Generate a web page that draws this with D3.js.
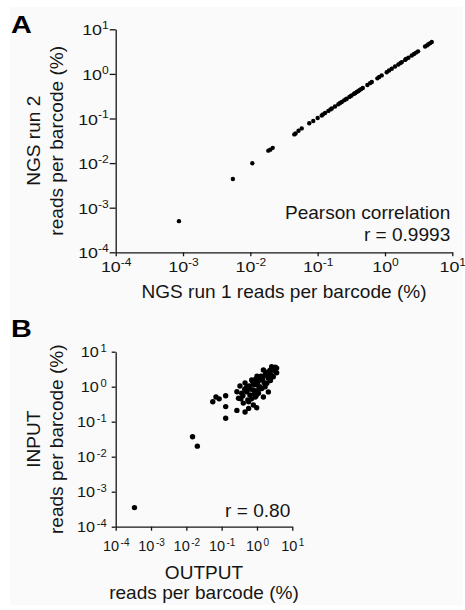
<!DOCTYPE html>
<html>
<head>
<meta charset="utf-8">
<script src="https://cdn.jsdelivr.net/npm/d3@7"></script>
<style>
  body { margin: 0; background: #fff; }
  svg { display: block; font-family: "Liberation Sans", Arial, sans-serif; }
</style>
</head>
<body>
<div id="viz"></div>
<script>
// panel A: NGS run 1 vs NGS run 2 (reads per barcode, %)
var run1 = [0.00087, 0.0055, 0.0107, 0.0185, 0.0198, 0.0215, 0.045, 0.047, 0.052, 0.058,
    0.075, 0.086, 0.100, 0.115, 0.12, 0.129, 0.144, 0.155, 0.162, 0.181, 0.203, 0.215, 0.228,
    0.247, 0.26, 0.270, 0.296, 0.31, 0.320, 0.348, 0.36, 0.381, 0.40, 0.417, 0.44, 0.468,
    0.548, 0.6, 0.637, 0.771, 0.82, 0.895, 1.06, 1.15, 1.26, 1.41, 1.58, 1.7, 1.78, 1.99,
    2.05, 2.23, 2.50, 2.7, 2.90, 3.1, 3.94, 4.2, 4.42, 4.7, 4.95];
var run2 = [0.0005, 0.0044, 0.0099, 0.019, 0.020, 0.022, 0.044, 0.046, 0.053, 0.060,
    0.078, 0.088, 0.103, 0.117, 0.124, 0.133, 0.148, 0.16, 0.167, 0.186, 0.209, 0.222, 0.234,
    0.255, 0.268, 0.278, 0.305, 0.318, 0.330, 0.358, 0.37, 0.392, 0.41, 0.430, 0.455, 0.482,
    0.565, 0.62, 0.657, 0.795, 0.85, 0.925, 1.09, 1.19, 1.30, 1.46, 1.63, 1.76, 1.84, 2.06,
    2.15, 2.31, 2.59, 2.8, 3.00, 3.2, 4.10, 4.35, 4.62, 4.9, 5.20];

// panel B: OUTPUT vs INPUT (reads per barcode, %)
var outputReads = [0.00034, 0.015, 0.0205, 0.056, 0.069, 0.085, 0.13, 0.13, 0.13, 0.27, 0.46, 0.98, 2.1,
    2.6, 3.6, 3.6, 1.52, 1.70, 0.33, 0.46, 0.27, 0.30, 0.41, 0.58, 0.63, 0.79, 0.98, 0.71, 1.23,
    1.90, 2.9, 1.37, 0.89, 0.51, 0.37, 0.58, 0.79, 1.1, 2.1, 1.52,
    0.40, 0.50, 0.65, 0.75, 0.85, 1.0, 1.2, 1.3, 0.9, 1.6, 1.8, 2.3, 2.4, 3.1, 3.3, 0.55, 0.70,
    0.60, 1.05, 1.45, 0.95, 1.15, 0.45, 0.35, 0.80, 2.0, 1.7, 2.5, 1.0];
var inputReads = [0.00035, 0.037, 0.020, 0.37, 0.51, 0.45, 0.55, 0.27, 0.126, 0.21, 0.19, 0.25, 0.71,
    3.7, 3.4, 2.5, 3.0, 2.15, 1.05, 1.29, 0.72, 0.47, 0.34, 0.37, 0.58, 0.81, 1.12, 1.55, 1.55,
    1.25, 1.93, 0.89, 0.51, 0.72, 0.65, 0.24, 0.30, 0.65, 1.74, 0.51,
    0.55, 0.95, 0.85, 1.4, 0.62, 0.75, 1.0, 2.0, 1.6, 1.3, 2.6, 2.9, 1.5, 2.9, 3.6, 0.42, 0.45,
    1.05, 1.35, 1.75, 0.55, 0.85, 0.85, 0.45, 1.15, 2.3, 1.0, 2.2, 2.0];

var exponents = [-4, -3, -2, -1, 0, 1];
var decades = exponents.map(function(e){ return Math.pow(10, e); });

var width = 465, height = 610;
var ink = '#151515';
var titleSize = 17.5, titleStretch = 1.09;   // the source type is a little wider than Arial

var svg = d3.select('#viz').append('svg')
    .attr('width', width)
    .attr('height', height);

svg.append('rect')
    .attr('x', 10).attr('y', 7)
    .attr('width', 453).attr('height', 598)
    .attr('fill', '#fafafa');

// text drawn at (x, y), optionally rotated, stretched horizontally
function stext(x, y, str, size, anchor, sx, rot){
    return svg.append('text')
        .attr('transform', 'translate(' + [x, y] + ')' + (rot ? ' rotate(-90)' : '') + ' scale(' + sx + ',1)')
        .attr('text-anchor', anchor)
        .style('font-size', size + 'px')
        .attr('fill', ink)
        .text(str);
}

function supLabels(axisG, size, supSize, gap, sx){
    axisG.selectAll('.tick text').each(function(d){
        var t = d3.select(this);
        var x0 = +t.attr('x') || 0;
        t.text(null)
            .style('font-size', size + 'px')
            .attr('fill', ink)
            .attr('x', x0 / sx)
            .attr('transform', 'scale(' + sx + ',1)');
        t.append('tspan').style('font-size', size + 'px').text('10');
        t.append('tspan')
            .attr('dx', gap)
            .attr('dy', -size * 0.4)
            .style('font-size', supSize + 'px')
            .text(Math.round(Math.log10(d)));
    });
}

function panel(o){
    var x = d3.scaleLog().domain([1e-4, 10]).range([o.left, o.right]);
    var y = d3.scaleLog().domain([1e-4, 10]).range([o.bottom, o.top]);

    var gx = svg.append('g')
        .attr('transform', 'translate(0,' + o.bottom + ')')
        .call(d3.axisBottom(x).tickValues(decades).tickSize(4).tickSizeOuter(0));
    var gy = svg.append('g')
        .attr('transform', 'translate(' + o.left + ',0)')
        .call(d3.axisLeft(y).tickValues(decades).tickSize(o.yTick).tickSizeOuter(0).tickPadding(o.yPad));

    [gx, gy].forEach(function(g){
        g.attr('font-family', null).attr('font-size', null);
        g.select('.domain').attr('stroke', ink).attr('stroke-width', 1.3);
        g.selectAll('.tick line').attr('stroke', ink).attr('stroke-width', 1.3);
    });
    supLabels(gx, o.xTickSize, o.xSupSize, o.gap, o.xStretch);
    supLabels(gy, o.yTickSize, o.ySupSize, o.gap, o.yStretch);
    gx.selectAll('.tick text').attr('dy', null).attr('y', o.xLabelY - o.bottom);
    gy.selectAll('.tick text').attr('dy', '0.36em');

    svg.append('g').selectAll('circle')
        .data(o.xs)
        .enter().append('circle')
        .attr('cx', function(d){ return x(d); })
        .attr('cy', function(d, i){ return y(o.ys[i]); })
        .attr('r', o.r)
        .attr('fill', '#000');

    // panel letter
    stext(11, o.letterY, o.letter, 24, 'start', 1.2)
        .attr('font-weight', 'bold')
        .attr('fill', '#000');

    // y title (two lines, rotated)
    var cy = (o.top + o.bottom) / 2;
    o.yTitle.forEach(function(line, i){
        stext(40 + i * 22.5, cy, line, titleSize, 'middle', titleStretch, true);
    });

    // x title
    var cx = (o.left + o.right) / 2;
    o.xTitle.forEach(function(line, i){
        stext(cx, o.xTitleY + i * 20.5, line, titleSize, 'middle', titleStretch, false);
    });

    // correlation note
    o.note.forEach(function(line, i){
        stext(o.right - 2, o.noteY + i * 21.5, line, titleSize, 'end', titleStretch, false);
    });
}

panel({
    letter: 'A', letterY: 33,
    left: 115.7, right: 452.3, top: 29.3, bottom: 252.3,
    xs: run1, ys: run2, r: 2.2,
    xTickSize: 15.5, xSupSize: 10.5, yTickSize: 15.5, ySupSize: 10.5, gap: 0,
    xStretch: 1.15, yStretch: 1.15,
    yTick: 6, yPad: 1,
    xLabelY: 272,
    yTitle: ['NGS run 2', 'reads per barcode (%)'],
    xTitle: ['NGS run 1 reads per barcode (%)'], xTitleY: 298,
    note: ['Pearson correlation', 'r = 0.9993'], noteY: 219
});

panel({
    letter: 'B', letterY: 337,
    left: 115.7, right: 292.3, top: 351.7, bottom: 526.7,
    xs: outputReads, ys: inputReads, r: 2.7,
    xTickSize: 14.5, xSupSize: 10, yTickSize: 14.5, ySupSize: 10, gap: 1.5,
    xStretch: 1.0, yStretch: 1.12,
    yTick: 4, yPad: 5,
    xLabelY: 551.5,
    yTitle: ['INPUT', 'reads per barcode (%)'],
    xTitle: ['OUTPUT', 'reads per barcode (%)'], xTitleY: 578.5,
    note: ['r = 0.80'], noteY: 517
});
</script>
</body>
</html>
